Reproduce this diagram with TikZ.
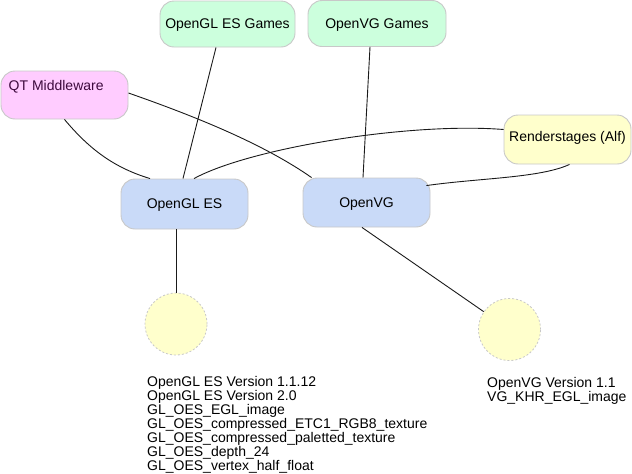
\documentclass[tikz,border=0pt]{standalone}
\usepackage{fontspec}
\setmainfont{Liberation Sans}
\definecolor{boxgreen}{HTML}{CCFFDD}
\definecolor{boxpink}{HTML}{FFCCFF}
\definecolor{boxblue}{HTML}{C9DAF8}
\definecolor{boxyellow}{HTML}{FFFFCC}
\definecolor{boxline}{HTML}{C8C8C8}
\definecolor{qttext}{HTML}{3D0A3D}
\definecolor{conn}{HTML}{1A1A1A}
\tikzset{
  box/.style={draw=boxline, line width=0.9pt, rounded corners=14pt, inner sep=0pt,
    text depth=0pt, font=\fontsize{14}{14}\selectfont},
  blob/.style={circle, draw=boxline, fill=boxyellow, dash pattern=on 2pt off 2pt,
    line width=0.8pt, minimum size=62pt, inner sep=0pt},
  link/.style={draw=conn, line width=0.9pt},
  note/.style={align=left, inner sep=0pt, font=\fontsize{14}{14}\selectfont, anchor=base west}
}
\begin{document}
\begin{tikzpicture}[x=1pt,y=-1pt]
\useasboundingbox (0,0) rectangle (632,474);
\node[box, fill=boxgreen, minimum width=135pt, minimum height=46pt] (glg) at (227.5,24) {OpenGL ES Games};
\node[box, fill=boxgreen, minimum width=138pt, minimum height=46pt] (vgg) at (377,23.5) {OpenVG Games};
\node[box, fill=boxpink, minimum width=127pt, minimum height=48pt] (qt) at (64.5,95) {};
\node[anchor=base west, inner sep=0pt, text=qttext, font=\fontsize{14}{14}\selectfont] (qtt) at (8.5,90) {QT Middleware};
\node[box, fill=boxblue, minimum width=127pt, minimum height=50pt] (gles) at (184.5,204) {OpenGL ES};
\node[box, fill=boxblue, minimum width=127pt, minimum height=49pt] (ovg) at (366.5,202.5) {OpenVG};
\node[box, fill=boxyellow, minimum width=127pt, minimum height=49pt, text depth=6pt] (rs) at (567.5,139.5) {Renderstages (Alf)};
\node[blob] (c1) at (176,324) {};
\node[blob] (c2) at (509.5,329.5) {};
\node[note] (t1) at (147,470.5) {OpenGL ES Version 1.1.12\\OpenGL ES Version 2.0\\GL\_OES\_EGL\_image\\GL\_OES\_compressed\_ETC1\_RGB8\_texture\\GL\_OES\_compressed\_paletted\_texture\\GL\_OES\_depth\_24\\GL\_OES\_vertex\_half\_float};
\node[note] (t2) at (487,401.5) {OpenVG Version 1.1\\VG\_KHR\_EGL\_image};
% connectors
\draw[link] ([xshift=-11.5pt]glg.south) -- ([xshift=-1.5pt]gles.north);
\draw[link] ([xshift=-7pt]vgg.south) -- ([xshift=-3.5pt]ovg.north);
\draw[link] (qt.south) .. controls (90,150) and (115,168) .. ([xshift=-34.5pt]gles.north);
\draw[link] ([yshift=2pt]qt.east) .. controls (200,118) and (265,145) .. ([xshift=9pt]ovg.north west);
\draw[link] ([yshift=10pt]rs.west) .. controls (410,122) and (250,148) .. ([xshift=9.5pt]gles.north);
\draw[link] ([xshift=2pt]rs.south) .. controls (540,178) and (480,178) .. ([xshift=-4pt,yshift=-8pt]ovg.north east);
\draw[link] ([xshift=-8.5pt]gles.south) -- (c1);
\draw[link] ([xshift=-4.5pt]ovg.south) -- (c2);
\end{tikzpicture}
\end{document}
